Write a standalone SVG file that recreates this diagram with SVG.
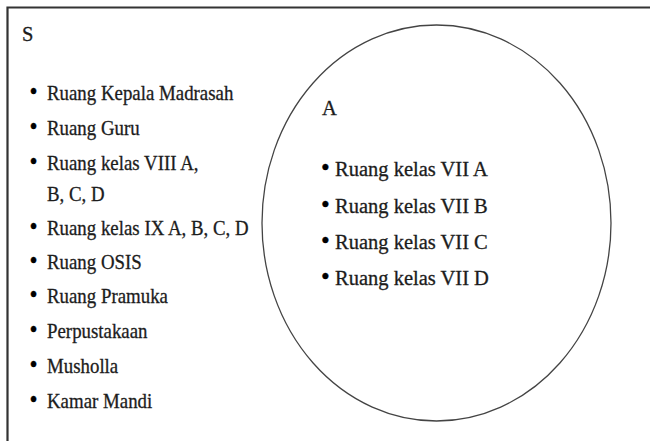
<svg xmlns="http://www.w3.org/2000/svg" width="650" height="441" viewBox="0 0 650 441">
<style>
.t{font-family:"Liberation Serif","Times New Roman",serif;font-size:20.5px;fill:#1c1c1c;stroke:#1c1c1c;stroke-width:0.3}
.b{font-size:25px;fill:#000;stroke:#000}
.frame{fill:none;stroke:#333;stroke-width:2.2}
.set{fill:none;stroke:#444;stroke-width:1.3}
</style>
<rect width="650" height="441" fill="#fff"/>
<g id="S">
<path class="frame" d="M7.5,445 V7.5 H656"/>
<text class="t" x="22" y="41">S</text>
<g transform="scale(0.92,1)">
<text class="t" y="100"><tspan class="b" x="32">•</tspan><tspan x="51.1">Ruang Kepala Madrasah</tspan></text>
<text class="t" y="135"><tspan class="b" x="32">•</tspan><tspan x="51.1">Ruang Guru</tspan></text>
<text class="t" y="170"><tspan class="b" x="32">•</tspan><tspan x="51.1">Ruang kelas VIII A,</tspan></text>
<text class="t" x="51.1" y="201">B, C, D</text>
<text class="t" y="235"><tspan class="b" x="32">•</tspan><tspan x="51.1">Ruang kelas IX A, B, C, D</tspan></text>
<text class="t" y="269"><tspan class="b" x="32">•</tspan><tspan x="51.1">Ruang OSIS</tspan></text>
<text class="t" y="303"><tspan class="b" x="32">•</tspan><tspan x="51.1">Ruang Pramuka</tspan></text>
<text class="t" y="338"><tspan class="b" x="32">•</tspan><tspan x="51.1">Perpustakaan</tspan></text>
<text class="t" y="373"><tspan class="b" x="32">•</tspan><tspan x="51.1">Musholla</tspan></text>
<text class="t" y="408"><tspan class="b" x="32">•</tspan><tspan x="51.1">Kamar Mandi</tspan></text>
</g>
</g>
<g id="A">
<ellipse class="set" cx="436.5" cy="223" rx="174.5" ry="198"/>
<text class="t" x="322" y="115">A</text>
<text class="t" y="176"><tspan class="b" x="321">•</tspan><tspan x="335">Ruang kelas VII A</tspan></text>
<text class="t" y="213"><tspan class="b" x="321">•</tspan><tspan x="335">Ruang kelas VII B</tspan></text>
<text class="t" y="249"><tspan class="b" x="321">•</tspan><tspan x="335">Ruang kelas VII C</tspan></text>
<text class="t" y="285"><tspan class="b" x="321">•</tspan><tspan x="335">Ruang kelas VII D</tspan></text>
</g>
<g id="connectors"/>
</svg>
